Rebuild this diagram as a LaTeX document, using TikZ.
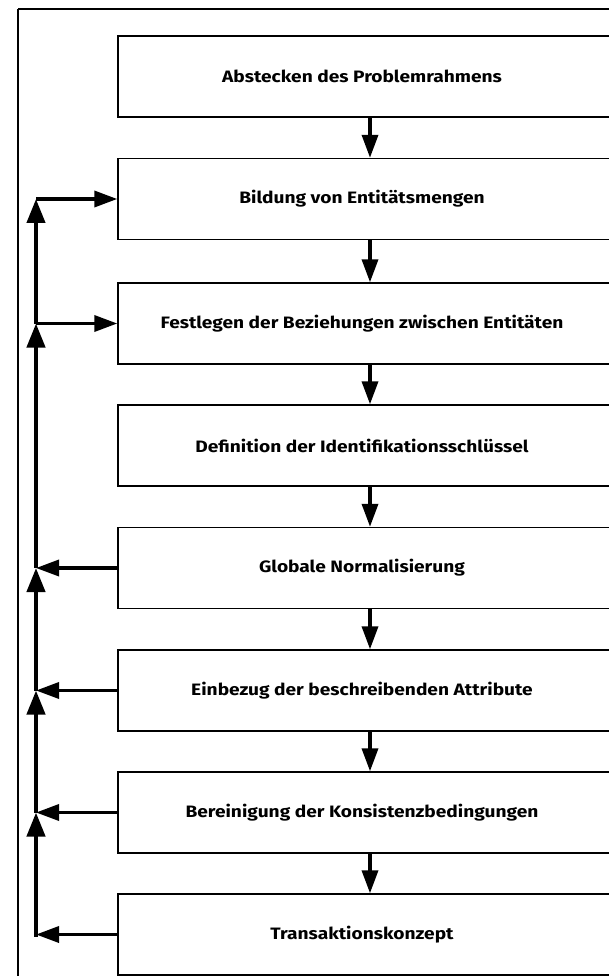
\documentclass[tikz,border=0pt]{standalone}
\usepackage{fontspec}
\newfontfamily\stagefont[FakeStretch=1.16]{Fira Sans}
\usetikzlibrary{arrows.meta}
\tikzset{
  x=1pt, y=-1pt,
  stage/.style={draw, line width=1.4pt, minimum width=504pt, minimum height=81pt,
    inner sep=0pt, font=\stagefont\bfseries\fontsize{16.5}{19}\selectfont},
  flow/.style={line width=3.5pt, -{Triangle[length=23pt,width=16pt]}},
  rail/.style={line width=4.2pt, -{Triangle[length=24pt,width=18pt]}},
}
\newcommand{\stagetext}[1]{#1\hspace*{16pt}}
\begin{document}
\begin{tikzpicture}
\useasboundingbox (0,0) rectangle (608,976);
% outer frame
\draw[line width=1.3pt] (18,9) -- (640,9);
\draw[line width=1.3pt] (18,9) -- (18,990);
% process stages
\node[stage] (s1) at (370,76.5) {\stagetext{Abstecken des Problemrahmens}};
\node[stage] (s2) at (370,199) {\stagetext{Bildung von Entitätsmengen}};
\node[stage] (s3) at (370,323.5) {\stagetext{Festlegen der Beziehungen zwischen Entitäten}};
\node[stage] (s4) at (370,445.5) {\stagetext{Definition der Identifikationsschlüssel}};
\node[stage] (s5) at (370,568) {\stagetext{Globale Normalisierung}};
\node[stage] (s6) at (370,690.5) {\stagetext{Einbezug der beschreibenden Attribute}};
\node[stage] (s7) at (370,812.5) {\stagetext{Bereinigung der Konsistenzbedingungen}};
\node[stage] (s8) at (370,934.5) {\stagetext{Transaktionskonzept}};
% downward sequence
\foreach \a/\b in {s1/s2,s2/s3,s3/s4,s4/s5,s5/s6,s6/s7,s7/s8}
  \draw[flow] (\a.south) -- (\b.north);
% feedback rail
\coordinate (j2) at (36,199);
\coordinate (j3) at (36,323.5);
\coordinate (j5) at (36,568);
\coordinate (j6) at (36,690.5);
\coordinate (j7) at (36,812.5);
\coordinate (j8) at (36,934.5);
\draw[line width=4.2pt] ([yshift=-2.1pt]j8) -- ([yshift=-10pt]j7);
\draw[rail] ([yshift=2.1pt]j8) -- (j7);
\draw[rail] (j7) -- (j6);
\draw[rail] (j6) -- (j5);
\draw[rail] (j5) -- (j3);
\draw[rail] (j3) -- (j2);
% branches
\draw[flow] (j2) -- (s2.west);
\draw[flow] (j3) -- (s3.west);
\draw[flow] (s5.west) -- (j5);
\draw[flow] (s6.west) -- (j6);
\draw[flow] (s7.west) -- (j7);
\draw[flow] (s8.west) -- (j8);
\end{tikzpicture}
\end{document}
